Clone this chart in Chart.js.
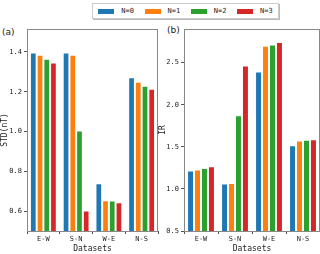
<!DOCTYPE html>
<html>
<head>
<meta charset="utf-8">
<script src="https://cdn.jsdelivr.net/npm/chart.js@4"></script>
<style>
  body { margin: 0; background: #fff; width: 320px; height: 254px; position: relative; overflow: hidden; font-family: "DejaVu Sans Mono", monospace; }
  .box { position: absolute; }
  #legend { position: absolute; left: 92px; top: 3px; width: 185px; height: 14px; border: 1px solid #ccc; box-shadow: 1px 1px 0 #bbb; display: flex; align-items: center; justify-content: space-around; font-size: 7px; color: #222; background: #fff; }
  #legend span.sw { display: inline-block; width: 16px; height: 5px; margin-right: 7px; vertical-align: middle; }
  .tag { position: absolute; font-family: "DejaVu Sans", sans-serif; font-size: 9px; color: #222; }
</style>
</head>
<body>
<div id="legend"></div>
<div class="tag" style="left:2px;top:27px">(a)</div>
<div class="tag" style="left:167px;top:25px">(b)</div>
<div class="box" style="left:0;top:20px;width:162px;height:234px"><canvas id="chartA"></canvas></div>
<div class="box" style="left:158px;top:20px;width:162px;height:234px"><canvas id="chartB"></canvas></div>
<script>
// datasets along the x axis
const categories = ['E-W', 'S-N', 'W-E', 'N-S'];
const seriesNames = ['N=0', 'N=1', 'N=2', 'N=3'];
const seriesColors = ['#1f77b4', '#ff7f0e', '#2ca02c', '#d62728'];

// (a) STD(nT), one array per N
const stdN0 = [1.397, 1.397, 0.740, 1.273];
const stdN1 = [1.385, 1.385, 0.655, 1.250];
const stdN2 = [1.365, 1.005, 0.653, 1.230];
const stdN3 = [1.347, 0.603, 0.645, 1.215];

// (b) IR
const irN0 = [1.220, 1.065, 2.395, 1.520];
const irN1 = [1.230, 1.070, 2.700, 1.575];
const irN2 = [1.250, 1.875, 2.715, 1.585];
const irN3 = [1.270, 2.465, 2.745, 1.590];

const stdTicks = [0.6, 0.8, 1.0, 1.2, 1.4];
const irTicks = [0.5, 1.0, 1.5, 2.0, 2.5];

const monoFont = { family: '"DejaVu Sans Mono", monospace', size: 7 };

// legend shared by both panels
const legend = document.getElementById('legend');
seriesNames.forEach((name, i) => {
    const item = document.createElement('div');
    item.innerHTML = `<span class="sw" style="background:${seriesColors[i]}"></span>${name}`;
    legend.appendChild(item);
});

// frame around the plot area
const framePlugin = {
    id: 'frame',
    afterDraw(chart) {
        const a = chart.chartArea;
        const ctx = chart.ctx;
        ctx.save();
        ctx.strokeStyle = '#888';
        ctx.lineWidth = 1;
        ctx.strokeRect(a.left + 0.5, a.top + 0.5, a.right - a.left - 1, a.bottom - a.top);
        ctx.restore();
    }
};

function makeChart(id, series, ticks, yMin, yMax, yTitle, leftW, rightPad) {
    return new Chart(document.getElementById(id), {
        type: 'bar',
        data: {
            labels: categories,
            datasets: series.map((vals, i) => ({
                label: seriesNames[i],
                data: vals,
                backgroundColor: seriesColors[i],
                borderColor: 'rgba(255,255,255,0.85)',
                borderWidth: 1,
                borderSkipped: false,
                categoryPercentage: 0.82,
                barPercentage: 1.0
            }))
        },
        options: {
            responsive: true,
            maintainAspectRatio: false,
            animation: false,
            layout: { padding: { top: 9, right: rightPad, bottom: 0, left: 0 } },
            plugins: { legend: { display: false }, tooltip: { enabled: false } },
            scales: {
                x: {
                    grid: { display: true, drawOnChartArea: false, drawTicks: true, tickLength: 3, color: '#555' },
                    border: { display: false },
                    ticks: { font: monoFont, color: '#222', padding: 1, maxRotation: 0 },
                    title: { display: true, text: 'Datasets', font: { family: monoFont.family, size: 8 }, color: '#222', padding: { top: 0, bottom: 0 } }
                },
                y: {
                    min: yMin,
                    max: yMax,
                    afterBuildTicks: axis => { axis.ticks = ticks.map(v => ({ value: v })); },
                    afterFit: axis => { axis.width = leftW; },
                    grid: { display: true, drawOnChartArea: false, drawTicks: true, tickLength: 3, color: '#555' },
                    border: { display: false },
                    ticks: { font: monoFont, color: '#222', padding: 2, callback: v => v.toFixed(1) },
                    title: { display: true, text: yTitle, font: { family: monoFont.family, size: 8 }, color: '#222', padding: { top: 0, bottom: 0 } }
                }
            }
        },
        plugins: [framePlugin]
    });
}

makeChart('chartA', [stdN0, stdN1, stdN2, stdN3], stdTicks, 0.5, 1.515, 'STD(nT)', 27, 4);
makeChart('chartB', [irN0, irN1, irN2, irN3], irTicks, 0.5, 2.9, 'IR', 26, 0);
</script>
</body>
</html>
